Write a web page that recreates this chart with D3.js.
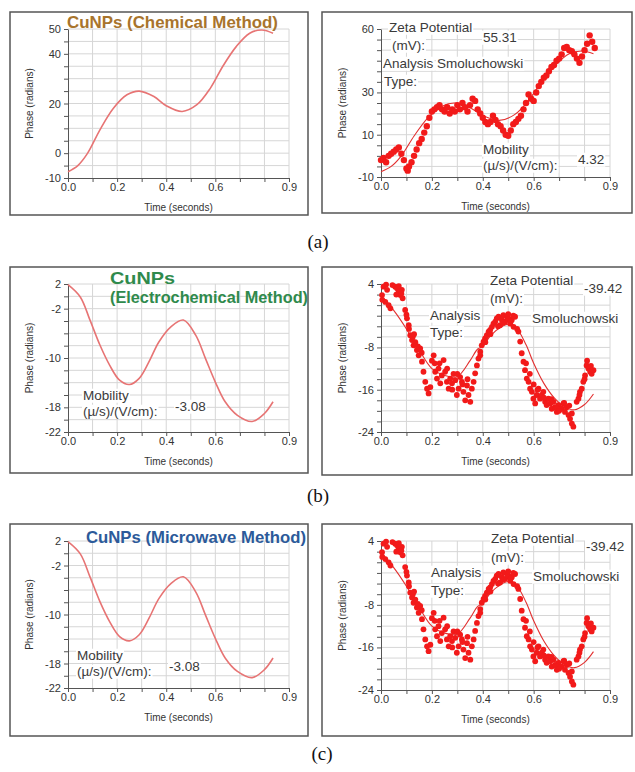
<!DOCTYPE html>
<html>
<head>
<meta charset="utf-8">
<script src="https://cdn.jsdelivr.net/npm/d3@7"></script>
<style>
  body { margin: 0; background: #fff; }
</style>
</head>
<body>
<div id="vis"></div>
<script>
// Tick labels.
const timeTicks = [0, 0.2, 0.4, 0.6, 0.9];
const chemLeftTicks = [50, 40, 20, 0, -10];
const chemRightTicks = [60, 30, 10, -10];
const elecLeftTicks = [2, -2, -10, -18, -22];
const elecRightTicks = [4, -8, -16, -24];

// Fitted curve of the chemical sample, [time, phase].
const chemFit = [[0,-7.5],[0.04,-5],[0.08,0],[0.13,9.4],[0.185,18.1],[0.24,23.5],[0.29,25],
  [0.35,22.8],[0.4,19.1],[0.465,16.8],[0.525,19.5],[0.58,26.2],[0.63,34.9],[0.685,42.9],
  [0.74,48.3],[0.79,49.6],[0.835,48.3]];

// Measured phase of the chemical sample.
const chemPoints = [[0,-2],[0.01,-1],[0.02,-3],[0.03,0],[0.04,1],[0.05,2],[0.06,3],[0.07,4],
  [0.08,1],[0.09,-2],[0.1,-6],[0.105,-7],[0.11,-5],[0.12,-3],[0.13,0],[0.14,3],[0.15,6],
  [0.16,8],[0.17,11],[0.18,14],[0.19,18],[0.2,21],[0.21,22],[0.22,23],[0.23,24],[0.24,22],
  [0.25,21],[0.26,23],[0.27,20],[0.28,22],[0.29,21],[0.3,24],[0.31,22],[0.32,25],[0.33,23],
  [0.34,21],[0.35,24],[0.36,27],[0.37,26],[0.38,22],[0.39,20],[0.4,18],[0.41,16],[0.42,15],
  [0.43,16],[0.44,19],[0.45,17],[0.46,15],[0.47,14],[0.48,12],[0.49,10],[0.5,9.5],[0.51,12],
  [0.52,15],[0.53,16],[0.54,17.5],[0.55,19],[0.56,22],[0.57,25],[0.58,29],[0.59,27],[0.6,26],
  [0.61,30],[0.62,33],[0.63,35],[0.64,37],[0.65,38],[0.66,40],[0.67,42],[0.68,43],[0.69,45],
  [0.7,46],[0.71,48],[0.72,51],[0.73,51.5],[0.74,50],[0.75,49.5],[0.76,48],[0.77,46],[0.78,44],
  [0.79,47],[0.8,50],[0.81,53],[0.82,57],[0.83,54],[0.84,51]];

// Fitted curves of the electrochemical / microwave samples.
const elecFit = [[0,1.9],[0.05,-0.1],[0.09,-3.9],[0.13,-7.9],[0.17,-11.2],[0.21,-13.6],[0.25,-14.3],
  [0.29,-13.3],[0.33,-10.6],[0.37,-7.4],[0.42,-4.9],[0.47,-3.85],[0.52,-6.3],[0.56,-10.1],
  [0.6,-13.9],[0.64,-17.1],[0.69,-19.3],[0.75,-20.3],[0.8,-19],[0.835,-17.1]];

const elecFitRight = [[0,1.8],[0.05,-1],[0.1,-4.5],[0.15,-8.5],[0.2,-12],[0.25,-13.3],[0.3,-13.5],
  [0.35,-10.5],[0.38,-8.3],[0.4,-7.8],[0.43,-5.8],[0.47,-4.2],[0.5,-3.6],[0.53,-4.2],[0.57,-7.5],
  [0.6,-11],[0.64,-14.8],[0.68,-17.5],[0.72,-19.2],[0.76,-19.8],[0.8,-18.8],[0.835,-16.8]];

// Measured phase of the electrochemical / microwave samples.
const elecPoints = [[0.004,1.9],[0.010,3.5],[0.017,0.6],[0.024,2.9],[0.030,0],[0.037,-0.6],
  [0.056,3.5],[0.063,3.2],[0.069,2.5],[0.076,1.9],[0.082,2.9],[0.085,1.3],[0.095,-0.9],
  [0.102,-2.5],[0.109,-3.8],[0.115,-5.7],[0.122,-6.6],[0.128,-7.6],[0.135,-7],[0.141,-8.5],
  [0.148,-9.5],[0.154,-8.2],[0.161,-10.7],[0.167,-12.6],[0.174,-14.5],[0.181,-15.8],
  [0.187,-16.7],[0.194,-15.5],[0.207,-9.5],[0.211,-11],[0.213,-12.6],[0.220,-13.9],[0.226,-12],
  [0.233,-14.8],[0.239,-13.3],[0.246,-10.4],[0.252,-12.6],[0.259,-14.5],[0.266,-15.8],
  [0.272,-13.9],[0.279,-14.8],[0.285,-13],[0.292,-14.2],[0.298,-17],[0.305,-15.8],[0.311,-13.6],
  [0.318,-14.5],[0.324,-16.4],[0.331,-18],[0.338,-15.2],[0.344,-17],[0.351,-18.3],[0.357,-15.8],
  [0.364,-14.5],[0.370,-12.9],[0.377,-11.4],[0.383,-10.1],[0.390,-8.8],[0.396,-7.6],
  [0.403,-6.9],[0.409,-6.3],[0.416,-5.7],[0.423,-5],[0.429,-4.7],[0.436,-4.1],[0.442,-3.5],
  [0.449,-3.1],[0.455,-2.5],[0.462,-2.2],[0.468,-3.8],[0.475,-2.8],[0.481,-1.9],[0.488,-3.1],
  [0.495,-2.2],[0.501,-2.5],[0.508,-3.5],[0.514,-2.8],[0.521,-4.1],[0.527,-2.2],[0.540,-5],
  [0.547,-6.9],[0.553,-9.1],[0.560,-10.7],[0.566,-12.3],[0.573,-13.9],[0.580,-14.5],
  [0.586,-15.8],[0.593,-16.4],[0.599,-17.7],[0.606,-18.6],[0.612,-17],[0.619,-15.8],
  [0.625,-17.7],[0.632,-17],[0.638,-16.4],[0.645,-18.3],[0.651,-18.9],[0.658,-17.7],
  [0.665,-18.6],[0.671,-19.6],[0.678,-18.3],[0.684,-19.3],[0.691,-20.2],[0.697,-18.9],
  [0.710,-19.6],[0.717,-18.6],[0.723,-20.2],[0.730,-19.3],[0.737,-20.8],[0.743,-21.5],
  [0.750,-22.4],[0.756,-23],[0.769,-18.3],[0.776,-17.7],[0.782,-16.4],[0.789,-15.8],
  [0.795,-14.5],[0.802,-13.3],[0.808,-11.4],[0.815,-12],[0.822,-12.6],[0.828,-13],[0.835,-12.3],
  [0.005,1],[0.02,3.9],[0.045,3.8],[0.06,2],[0.07,3.6],[0.08,2.2],[0.1,-1.8],[0.11,-4.5],
  [0.125,-6],[0.13,-5.5],[0.145,-7.8],[0.16,-9],[0.2,-10.5],[0.23,-11],[0.26,-12],[0.28,-16],
  [0.3,-13],[0.32,-15],[0.34,-14],[0.39,-9.5],[0.41,-7],[0.43,-5.5],[0.46,-4],[0.48,-3.3],
  [0.5,-1.7],[0.51,-3],[0.52,-2],[0.535,-4.5],[0.57,-11],[0.585,-13],[0.6,-15],[0.615,-16],
  [0.64,-17.5],[0.67,-17.8],[0.69,-19.5],[0.7,-20],[0.72,-18.5],[0.74,-19],[0.75,-20.5],
  [0.78,-17],[0.8,-14],[0.81,-10.5],[0.825,-11.5]];

const mobilityNotes = [
  {text: "Mobility", dx: 0, dy: -1},
  {text: "(\u00b5/s)/(V/cm):", dx: 0, dy: 15},
  {text: "-3.08", dx: 92, dy: 10}
];

// Layout of the six panels.
const panels = [
  {box: [10, 12, 308, 215], plot: [68, 289, 29, 178], yDomain: [-10, 50], yStep: 5,
   yTicks: chemLeftTicks, curve: chemFit, smooth: true,
   title: [{text: "CuNPs (Chemical Method)", x: 67, y: 22, w: 211}], titleColor: "#a8742c",
   notes: []},
  {box: [322, 12, 632, 213], plot: [381, 610, 29, 177], yDomain: [-10, 60], yStep: 5,
   yTicks: chemRightTicks, curve: chemFit, points: chemPoints, r: 3.2,
   notes: [
     {text: "Zeta Potential", x: 389, y: 27}, {text: "(mV):", x: 392, y: 45},
     {text: "55.31", x: 483, y: 37},
     {text: "Analysis", x: 383, y: 63}, {text: "Smoluchowski", x: 437, y: 63},
     {text: "Type:", x: 384, y: 81},
     {text: "Mobility", x: 483, y: 149}, {text: "(\u00b5/s)/(V/cm):", x: 483, y: 165},
     {text: "4.32", x: 578, y: 159}]},
  {box: [10, 267, 308, 473], plot: [68, 289, 284, 432], yDomain: [-22, 2], yStep: 2,
   yTicks: elecLeftTicks, curve: elecFit, smooth: true,
   title: [{text: "CuNPs", x: 110, y: 278, w: 65}, {text: "(Electrochemical Method)", x: 110, y: 297, w: 198}],
   titleColor: "#2f8a4c", mobility: [83, 396]},
  {box: [322, 267, 632, 475], plot: [381, 610, 284, 432], yDomain: [-24, 4], yStep: 2,
   yTicks: elecRightTicks, curve: elecFitRight, points: elecPoints, r: 2.9,
   notes: [
     {text: "Zeta Potential", x: 490, y: 280}, {text: "(mV):", x: 490, y: 298},
     {text: "-39.42", x: 584, y: 288},
     {text: "Analysis", x: 430, y: 315}, {text: "Type:", x: 430, y: 332},
     {text: "Smoluchowski", x: 532, y: 318}]},
  {box: [10, 524, 308, 736], plot: [68, 289, 541, 688], yDomain: [-22, 2], yStep: 2,
   yTicks: elecLeftTicks, curve: elecFit, smooth: true,
   title: [{text: "CuNPs (Microwave Method)", x: 86, y: 537, w: 220}],
   titleColor: "#2c5a9a", mobility: [77, 656]},
  {box: [322, 524, 632, 736], plot: [381, 610, 541, 690], yDomain: [-24, 4], yStep: 2,
   yTicks: elecRightTicks, curve: elecFitRight, points: elecPoints, r: 2.9,
   notes: [
     {text: "Zeta Potential", x: 491, y: 538}, {text: "(mV):", x: 491, y: 557},
     {text: "-39.42", x: 586, y: 546},
     {text: "Analysis", x: 431, y: 572}, {text: "Type:", x: 431, y: 590},
     {text: "Smoluchowski", x: 533, y: 576}]}
];

const captions = [{text: "(a)", x: 318, y: 241}, {text: "(b)", x: 318, y: 495}, {text: "(c)", x: 322, y: 753}];

const svg = d3.select("#vis")
  .append("svg")
    .attr("width", 635)
    .attr("height", 772);

// Text with a white box behind it; boxes go in their own layer under all texts.
function note(boxLayer, textLayer, n) {
  const t = textLayer.append("text")
    .attr("x", n.x)
    .attr("y", n.y)
    .attr("dy", "0.35em")
    .style("font-family", "'Liberation Sans', Arial, sans-serif")
    .style("font-size", "13.5px")
    .style("fill", "#3a3a3a")
    .text(n.text);
  const b = t.node().getBBox();
  boxLayer.append("rect")
    .attr("x", b.x - 1)
    .attr("y", b.y + 1)
    .attr("width", b.width + 2)
    .attr("height", b.height - 1)
    .attr("fill", "#fff");
}

function drawPanel(p) {
  const g = svg.append("g");
  const [x0, x1, y0, y1] = p.plot;

  const x = d3.scaleLinear().domain([0, 0.9]).range([x0, x1]);
  const y = d3.scaleLinear().domain(p.yDomain).range([y1, y0]);

  // Frame.
  g.append("rect")
    .attr("x", p.box[0])
    .attr("y", p.box[1])
    .attr("width", p.box[2] - p.box[0])
    .attr("height", p.box[3] - p.box[1])
    .attr("fill", "#fff")
    .attr("stroke", "#555")
    .attr("stroke-width", 1.5);

  const xGrid = d3.range(10).map(i => i / 10);
  const yGrid = d3.range(p.yDomain[0], p.yDomain[1] + p.yStep / 2, p.yStep);

  // Gridlines.
  g.append("g")
    .selectAll("line")
    .data(xGrid.slice(1))
    .join("line")
      .attr("x1", d => x(d)).attr("x2", d => x(d))
      .attr("y1", y0).attr("y2", y1)
      .attr("stroke", "#d6d6d6");
  g.append("g")
    .selectAll("line")
    .data(yGrid.slice(1))
    .join("line")
      .attr("x1", x0).attr("x2", x1)
      .attr("y1", d => y(d)).attr("y2", d => y(d))
      .attr("stroke", "#d6d6d6");

  // Axes.
  const xAxis = g.append("g")
    .attr("transform", "translate(0," + y1 + ")")
    .call(d3.axisBottom(x)
      .tickValues(xGrid)
      .tickSizeInner(4)
      .tickSizeOuter(0)
      .tickPadding(1)
      .tickFormat(d => timeTicks.some(v => Math.abs(v - d) < 1e-9) ? d3.format(".1f")(d) : ""));
  const yAxis = g.append("g")
    .attr("transform", "translate(" + x0 + ",0)")
    .call(d3.axisLeft(y)
      .tickValues(yGrid)
      .tickSizeInner(4)
      .tickSizeOuter(0)
      .tickPadding(3)
      .tickFormat(d => p.yTicks.includes(d) ? d : ""));
  [xAxis, yAxis].forEach(a => {
    a.selectAll("path, line").attr("stroke", "#555");
    a.selectAll("text")
      .style("font-family", "'Liberation Sans', Arial, sans-serif")
      .style("font-size", "11px")
      .style("fill", "#333");
  });

  // Axis titles.
  g.append("text")
    .attr("x", (x0 + x1) / 2)
    .attr("y", y1 + 29)
    .attr("dy", "0.35em")
    .attr("text-anchor", "middle")
    .style("font-family", "'Liberation Sans', Arial, sans-serif")
    .style("font-size", "10px")
    .style("fill", "#333")
    .text("Time (seconds)");
  g.append("text")
    .attr("transform", "translate(" + (x0 - 39) + "," + ((y0 + y1) / 2) + ") rotate(-90)")
    .attr("dy", "0.35em")
    .attr("text-anchor", "middle")
    .style("font-family", "'Liberation Sans', Arial, sans-serif")
    .style("font-size", "10px")
    .style("fill", "#333")
    .text("Phase (radians)");

  // Notes sit on white boxes above the grid.
  const boxLayer = g.append("g");
  const textLayer = g.append("g");
  if (p.notes) p.notes.forEach(n => note(boxLayer, textLayer, n));
  if (p.mobility) mobilityNotes.forEach(n =>
    note(boxLayer, textLayer, {text: n.text, x: p.mobility[0] + n.dx, y: p.mobility[1] + n.dy}));

  // The curve.
  g.append("path")
    .datum(p.curve)
    .attr("d", d3.line()
      .x(d => x(d[0]))
      .y(d => y(d[1]))
      .curve(d3.curveCatmullRom))
    .attr("fill", "none")
    .attr("stroke", p.smooth ? "#e77474" : "#e23030")
    .attr("stroke-width", p.smooth ? 1.6 : 1.1);

  // Measured points.
  if (p.points) {
    g.append("g")
      .selectAll("circle")
      .data(p.points)
      .join("circle")
        .attr("cx", d => x(d[0]))
        .attr("cy", d => y(d[1]))
        .attr("r", p.r)
        .attr("fill", "#f21a1a");
  }

  // Title.
  if (p.title) {
    p.title.forEach(t => {
      g.append("text")
        .attr("x", t.x)
        .attr("y", t.y)
        .attr("dy", "0.35em")
        .attr("textLength", t.w)
        .attr("lengthAdjust", "spacingAndGlyphs")
        .style("font-family", "'Liberation Sans', Arial, sans-serif")
        .style("font-size", "17px")
        .style("font-weight", "700")
        .style("fill", p.titleColor)
        .text(t.text);
    });
  }
}

panels.forEach(drawPanel);

// Sub-figure captions.
svg.selectAll("text.caption")
  .data(captions)
  .join("text")
    .attr("class", "caption")
    .attr("x", d => d.x)
    .attr("y", d => d.y)
    .attr("dy", "0.35em")
    .attr("text-anchor", "middle")
    .style("font-family", "'Liberation Serif', 'Times New Roman', serif")
    .style("font-size", "19px")
    .style("fill", "#111")
    .text(d => d.text);
</script>
</body>
</html>
